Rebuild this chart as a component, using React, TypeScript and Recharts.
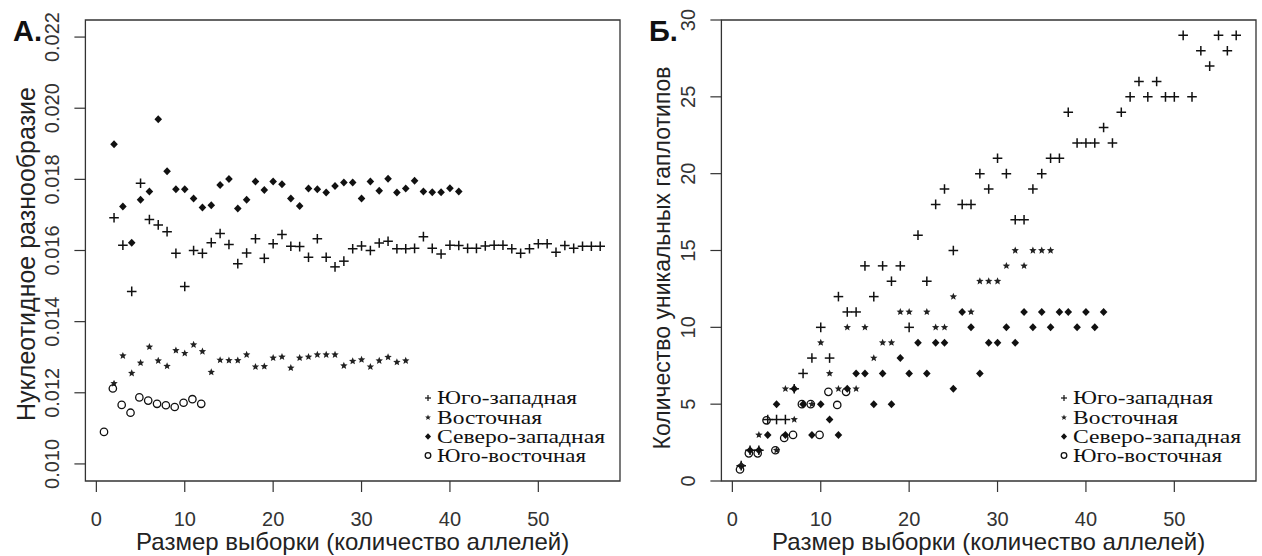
import { ScatterChart, Scatter, XAxis, YAxis, ReferenceArea, Legend } from 'recharts';

// sample sizes (number of alleles), shared by both panels
const sampleSizes = [
  1, 2, 3, 4, 5, 6, 7, 8, 9, 10, 11, 12, 13, 14, 15, 16, 17, 18, 19, 20,
  21, 22, 23, 24, 25, 26, 27, 28, 29, 30, 31, 32, 33, 34, 35, 36, 37, 38, 39, 40,
  41, 42, 43, 44, 45, 46, 47, 48, 49, 50, 51, 52, 53, 54, 55, 56, 57,
];

const seriesNames = ['Юго-западная', 'Восточная', 'Северо-западная', 'Юго-восточная'];

// panel A: nucleotide diversity
const divSouthWest = [
  null, 0.01692, 0.01615, 0.01485, 0.01789, 0.01687, 0.01672, 0.01653, 0.01592, 0.01499,
  0.016, 0.01592, 0.01622, 0.01648, 0.01617, 0.01563, 0.01593, 0.01633, 0.01578, 0.01619,
  0.01645, 0.01612, 0.01611, 0.01581, 0.01633, 0.01581, 0.01554, 0.0157, 0.01605, 0.01613,
  0.016, 0.01621, 0.01626, 0.01605, 0.01605, 0.01606, 0.01639, 0.01606, 0.0159, 0.01615,
  0.01614, 0.01606, 0.01606, 0.01613, 0.01615, 0.01615, 0.01605, 0.01592, 0.01605, 0.01619,
  0.01619, 0.01595, 0.01614, 0.01606, 0.01612, 0.01612, 0.01612,
];
const divEast = [
  null, 0.01226, 0.01304, 0.01255, 0.01284, 0.01329, 0.0129, 0.01275, 0.01319, 0.01311,
  0.01335, 0.01316, 0.01258, 0.01292, 0.01291, 0.01291, 0.01307, 0.01273, 0.01274, 0.01298,
  0.01301, 0.0127, 0.01298, 0.01301, 0.01307, 0.01307, 0.01307, 0.01276, 0.01289, 0.01293,
  0.01273, 0.0129, 0.013, 0.01286, 0.0129,
];
const divNorthWest = [
  null, 0.01899, 0.01724, 0.01622, 0.01743, 0.01766, 0.01969, 0.01823, 0.01772, 0.01772,
  0.01746, 0.01721, 0.01727, 0.01784, 0.01801, 0.01718, 0.01743, 0.01794, 0.0177, 0.01794,
  0.01786, 0.01746, 0.01725, 0.01774, 0.01772, 0.01763, 0.01781, 0.01791, 0.01791, 0.01746,
  0.01794, 0.01768, 0.01802, 0.01763, 0.01774, 0.01796, 0.01766, 0.01764, 0.01764, 0.01775,
  0.01766,
];
const divSouthEast = [
  0.0109, 0.01212, 0.01166, 0.01144, 0.01187, 0.01178, 0.01169, 0.01165, 0.0116, 0.01172,
  0.01182, 0.01169,
];
const divTicks = [0.01, 0.012, 0.014, 0.016, 0.018, 0.02, 0.022];

// panel B: number of unique haplotypes
const hapSouthWest = [
  1, 2, 2, 4, 4, 4, 6, 7, 8, 10, 8, 12, 11, 11, 14, 12, 14, 13, 14, 10,
  16, 13, 18, 19, 15, 18, 18, 20, 19, 21, 20, 17, 17, 19, 20, 21, 21, 24, 22, 22,
  22, 23, 22, 24, 25, 26, 25, 26, 25, 25, 29, 25, 28, 27, 29, 28, 29,
];
const hapEast = [
  1, null, 3, null, 2, 6, 4, null, 5, 9, 7, 6, 10, 6, 10, 8, 9, 9, 11, 11,
  null, 11, 10, 10, 12, null, 11, 13, 13, 13, 14, 15, 14, 15, 15, 15,
];
const hapNorthWest = [
  1, 2, 2, 3, 5, 3, 6, 5, 3, 5, 4, 3, 6, 7, 7, 5, 7, 5, 8, 7,
  9, 7, 9, 9, 6, 11, 10, 7, 9, 9, 10, 9, 11, 10, 11, 10, 11, 11, 10, 11,
  10, 11,
];
const hapSouthEast = [0.75, 1.8, 1.8, 3.95, 2, 2.8, 3, 5, 5, 3, 5.8, 4.95, 5.8];
const hapTicks = [0, 5, 10, 15, 20, 25, 30];

const xTicks = [0, 10, 20, 30, 40, 50];

const toPoints = (values: (number | null)[]) =>
  values
    .map((v, i) => ({ x: sampleSizes[i], y: v }))
    .filter((p) => p.y !== null);

const SANS = '"Liberation Sans", Arial, sans-serif';
const SERIF = '"Liberation Serif", "Times New Roman", serif';
const INK = '#111';

function PlusMark({ cx, cy, r = 4.8, w = 1.5 }: any) {
  return (
    <g stroke={INK} strokeWidth={w}>
      <line x1={cx - r} y1={cy} x2={cx + r} y2={cy} />
      <line x1={cx} y1={cy - r} x2={cx} y2={cy + r} />
    </g>
  );
}

function StarMark({ cx, cy, r = 3.9 }: any) {
  const pts = [];
  for (let k = 0; k < 10; k++) {
    const rad = k % 2 === 0 ? r : r * 0.45;
    const a = -Math.PI / 2 + (k * Math.PI) / 5;
    pts.push(`${cx + rad * Math.cos(a)},${cy + rad * Math.sin(a)}`);
  }
  return <polygon points={pts.join(' ')} fill="#222" />;
}

function DiamondMark({ cx, cy, r = 4 }: any) {
  return (
    <polygon
      points={`${cx},${cy - r} ${cx + r * 0.95},${cy} ${cx},${cy + r} ${cx - r * 0.95},${cy}`}
      fill={INK}
    />
  );
}

function CircleMark({ cx, cy, r = 3.7, dx = -1.2 }: any) {
  return <circle cx={cx + dx} cy={cy} r={r} fill="none" stroke={INK} strokeWidth={1.3} />;
}

const legendMarks = [
  (cx: number, cy: number) => <PlusMark cx={cx} cy={cy} r={3} w={1.2} />,
  (cx: number, cy: number) => <StarMark cx={cx} cy={cy} r={3} />,
  (cx: number, cy: number) => <DiamondMark cx={cx} cy={cy} r={3.2} />,
  (cx: number, cy: number) => <CircleMark cx={cx} cy={cy} r={2.8} dx={0} />,
];
const legendWidths = [140, 105, 168, 149];

function LegendBox() {
  const rows = [12, 31.5, 50.5, 69.5];
  return (
    <svg width={200} height={84}>
      {seriesNames.map((name, i) => (
        <g key={name}>
          {legendMarks[i](8, rows[i])}
          <text
            x={17}
            y={rows[i] + 6}
            fontFamily={SERIF}
            fontSize={18}
            fill={INK}
            textLength={legendWidths[i]}
            lengthAdjust="spacingAndGlyphs"
          >
            {name}
          </text>
        </g>
      ))}
    </svg>
  );
}

function XTick({ x, payload }: any) {
  return (
    <text x={x} y={519} textAnchor="middle" dominantBaseline="central" fontFamily={SANS} fontSize={20} fill="#333">
      {payload.value}
    </text>
  );
}

function makeYTick(format: (v: number) => string) {
  return function YTick({ y, payload }: any) {
    return (
      <text
        transform={`translate(52, ${y}) rotate(-90)`}
        textAnchor="middle"
        dominantBaseline="central"
        fontFamily={SANS}
        fontSize={20}
        fill="#333"
      >
        {format(payload.value)}
      </text>
    );
  };
}

function XTitle() {
  return (
    <text x={352.7} y={550} textAnchor="middle" fontFamily={SANS} fontSize={24} fill="#222">
      Размер выборки (количество аллелей)
    </text>
  );
}

function YTitle({ text, letter, size, cy }: any) {
  return (
    <g>
      <text
        transform={`translate(26, ${cy}) rotate(-90)`}
        textAnchor="middle"
        dominantBaseline="central"
        fontFamily={SANS}
        fontSize={size}
        fill="#222"
      >
        {text}
      </text>
      <text x={13} y={41} fontFamily={SANS} fontWeight="bold" fontSize={29} fill="#111">
        {letter}
      </text>
    </g>
  );
}

interface PanelProps {
  left: number;
  width: number;
  yDomain: [number, number];
  yTicks: number[];
  yFormat: (v: number) => string;
  yTitle: string;
  yTitleSize: number;
  yTitleCenter: number;
  letter: string;
  series: (number | null)[][];
}

const xDomain: [number, number] = [-1.24, 59.24];

function Panel({ left, width, yDomain, yTicks, yFormat, yTitle, yTitleSize, yTitleCenter, letter, series }: PanelProps) {
  const [sw, east, nw, se] = series;
  const YTick = makeYTick(yFormat);
  return (
    <div style={{ position: 'absolute', left, top: 0 }}>
      <ScatterChart width={width} height={556} margin={{ top: 20, right: width - 620, bottom: 0, left: 0 }}>
        <XAxis
          type="number"
          dataKey="x"
          domain={xDomain}
          ticks={xTicks}
          allowDataOverflow
          axisLine={false}
          tickLine={{ stroke: '#333', strokeWidth: 1.2 }}
          tickSize={11}
          height={75}
          tick={<XTick />}
          label={<XTitle />}
        />
        <YAxis
          type="number"
          dataKey="y"
          domain={yDomain}
          ticks={yTicks}
          allowDataOverflow
          axisLine={false}
          tickLine={{ stroke: '#333', strokeWidth: 1.2 }}
          tickSize={11}
          width={85.4}
          tick={<YTick />}
          label={<YTitle text={yTitle} letter={letter} size={yTitleSize} cy={yTitleCenter} />}
        />
        <ReferenceArea
          x1={xDomain[0]}
          x2={xDomain[1]}
          y1={yDomain[0]}
          y2={yDomain[1]}
          fill="none"
          stroke="#333"
          strokeWidth={1.3}
          fillOpacity={0}
          ifOverflow="visible"
        />
        <Scatter data={toPoints(nw)} isAnimationActive={false} shape={(p: any) => <DiamondMark cx={p.cx} cy={p.cy} />} />
        <Scatter data={toPoints(sw)} isAnimationActive={false} shape={(p: any) => <PlusMark cx={p.cx} cy={p.cy} />} />
        <Scatter data={toPoints(east)} isAnimationActive={false} shape={(p: any) => <StarMark cx={p.cx} cy={p.cy} />} />
        <Scatter data={toPoints(se)} isAnimationActive={false} shape={(p: any) => <CircleMark cx={p.cx} cy={p.cy} />} />
        <Legend
          layout="horizontal"
          verticalAlign="middle"
          align="center"
          wrapperStyle={{ position: 'absolute', left: 420, top: 386, width: 200, height: 84 }}
          content={<LegendBox />}
        />
      </ScatterChart>
    </div>
  );
}

export default function App() {
  return (
    <div style={{ position: 'absolute', left: 0, top: 0, width: 1262, height: 556, background: '#fff', overflow: 'hidden' }}>
      <Panel
        left={0}
        width={630}
        yDomain={[0.00952, 0.02248]}
        yTicks={divTicks}
        yFormat={(v) => v.toFixed(3)}
        yTitle="Нуклеотидное разнообразие"
        yTitleSize={25}
        yTitleCenter={254}
        letter="А."
        series={[divSouthWest, divEast, divNorthWest, divSouthEast]}
      />
      <Panel
        left={636.4}
        width={625}
        yDomain={[0, 30]}
        yTicks={hapTicks}
        yFormat={(v) => String(v)}
        yTitle="Количество уникальных гаплотипов"
        yTitleSize={23}
        yTitleCenter={258}
        letter="Б."
        series={[hapSouthWest, hapEast, hapNorthWest, hapSouthEast]}
      />
    </div>
  );
}
